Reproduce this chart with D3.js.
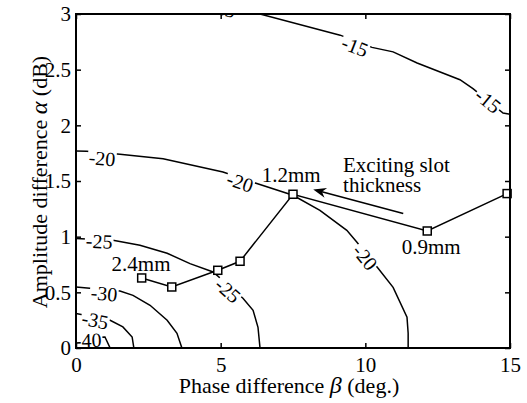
<!DOCTYPE html>
<html>
<head>
<meta charset="utf-8">
<script src="https://cdn.jsdelivr.net/npm/d3@7"></script>
<style>
  body { margin: 0; background: #fff; }
  svg text { font-family: "Liberation Serif", "Times New Roman", serif; fill: #000; }
</style>
</head>
<body>
<svg id="chart"></svg>
<script>
// axis ticks
const xTicks = [0, 5, 10, 15];
const yTicks = [0, 0.5, 1, 1.5, 2, 2.5, 3];

// contour lines, [beta, alpha]
const contourM15 = [[4.3, 3.1], [6.36, 3.0], [9.13, 2.81], [10.23, 2.70], [10.96, 2.66], [11.79, 2.56], [13.27, 2.41], [13.72, 2.33], [14.76, 2.11], [15, 2.10]];
const contourM20 = [[0, 1.77], [0.37, 1.767], [1.52, 1.74], [3.01, 1.70], [5.08, 1.58], [6.25, 1.477], [7.5, 1.372], [8.43, 1.237], [9.36, 1.057], [9.71, 0.95], [10.44, 0.716], [10.96, 0.545], [11.44, 0.276], [11.48, 0.132], [11.48, 0]];
const contourM25 = [[0, 0.983], [1.28, 0.968], [2.21, 0.923], [3.15, 0.851], [3.94, 0.758], [4.74, 0.683], [5.77, 0.447], [6.12, 0.339], [6.29, 0.186], [6.36, 0]];
const contourM30 = [[0, 0.548], [1.52, 0.512], [1.97, 0.473], [2.56, 0.384], [3.15, 0.249], [3.49, 0.132], [3.66, 0]];
const contourM35 = [[0, 0.309], [1.18, 0.249], [1.62, 0.189], [1.94, 0.099], [2.0, 0]];
const contourM40 = [[0, 0.09], [1.0, 0.099], [1.18, 0]];
const contours = [contourM15, contourM20, contourM25, contourM30, contourM35, contourM40];

// contour labels: [beta, alpha, text, index of contour]
const contourLabels = [
  [5.05, 3.05, '-15', 0], [9.64, 2.71, '-15', 0], [14.24, 2.22, '-15', 0],
  [0.9, 1.704, '-20', 1], [5.67, 1.49, '-20', 1], [9.99, 0.815, '-20', 1],
  [0.8, 0.959, '-25', 2], [5.25, 0.518, '-25', 2],
  [0.97, 0.49, '-30', 3],
  [0.66, 0.249, '-35', 4],
  [0.42, 0.07, '-40', 5]
];

// exciting slot thickness sweep
const beta = [2.27, 3.31, 4.9, 5.67, 7.5, 12.14, 14.9];
const alpha = [0.629, 0.548, 0.698, 0.779, 1.381, 1.051, 1.387];
const pointNotes = [[1.23, 0.692, '2.4mm'], [6.42, 1.49, '1.2mm'], [11.26, 0.848, '0.9mm']];
const arrowFrom = [11.31, 1.208];
const arrowTo = [8.2, 1.424];
const noteLines = ['Exciting slot', 'thickness'];

const serif = '"Liberation Serif", "Times New Roman", serif';
const W = 527, H = 403;
const margin = { top: 14, right: 17, bottom: 55, left: 76 };
const width = W - margin.left - margin.right;
const height = H - margin.top - margin.bottom;

const svg = d3.select('#chart').attr('width', W).attr('height', H);
const g = svg.append('g').attr('transform', `translate(${margin.left},${margin.top})`);

const x = d3.scaleLinear().domain([0, 15]).range([0, width]);
const y = d3.scaleLinear().domain([0, 3]).range([height, 0]);

svg.append('defs').append('clipPath').attr('id', 'plot-clip')
  .append('rect').attr('width', width).attr('height', height);

const plot = g.append('g').attr('clip-path', 'url(#plot-clip)');

const line = d3.line().x(d => x(d[0])).y(d => y(d[1]));

plot.selectAll('path.contour')
  .data(contours)
  .enter()
  .append('path')
  .attr('class', 'contour')
  .attr('fill', 'none')
  .attr('stroke', '#000')
  .attr('stroke-width', 1.5)
  .attr('d', line);

// angle of the contour nearest to a label
function labelAngle(px, py, pts) {
  let best = Infinity, ang = 0;
  for (let i = 0; i < pts.length - 1; i++) {
    const ax = x(pts[i][0]), ay = y(pts[i][1]);
    const bx = x(pts[i + 1][0]), by = y(pts[i + 1][1]);
    const dx = bx - ax, dy = by - ay;
    const t = Math.max(0, Math.min(1, ((px - ax) * dx + (py - ay) * dy) / (dx * dx + dy * dy)));
    const d = Math.hypot(ax + t * dx - px, ay + t * dy - py);
    if (d < best) { best = d; ang = Math.atan2(dy, dx) * 180 / Math.PI; }
  }
  if (ang > 90) ang -= 180;
  if (ang < -90) ang += 180;
  return ang;
}

contourLabels.forEach(l => {
  const px = x(l[0]), py = y(l[1]);
  const lg = plot.append('g')
    .attr('transform', `translate(${px},${py}) rotate(${labelAngle(px, py, contours[l[3]])})`);
  const t = lg.append('text')
    .attr('text-anchor', 'middle')
    .attr('dy', '0.35em')
    .attr('font-family', serif)
    .attr('font-size', 20)
    .text(l[2]);
  const b = t.node().getBBox();
  lg.insert('rect', 'text')
    .attr('x', b.x - 1).attr('y', b.y + 3)
    .attr('width', b.width + 2).attr('height', b.height - 6)
    .attr('fill', '#fff');
});

// sweep line + square markers
const pts = beta.map((b, i) => [b, alpha[i]]);
g.append('path')
  .datum(pts)
  .attr('fill', 'none')
  .attr('stroke', '#000')
  .attr('stroke-width', 1.5)
  .attr('d', line);

g.selectAll('rect.mark')
  .data(pts)
  .enter()
  .append('rect')
  .attr('class', 'mark')
  .attr('x', d => x(d[0]) - 4)
  .attr('y', d => y(d[1]) - 4)
  .attr('width', 8)
  .attr('height', 8)
  .attr('fill', '#fff')
  .attr('stroke', '#000')
  .attr('stroke-width', 1.5);

g.selectAll('text.note')
  .data(pointNotes)
  .enter()
  .append('text')
  .attr('class', 'note')
  .attr('x', d => x(d[0]))
  .attr('y', d => y(d[1]))
  .attr('font-size', 21)
  .text(d => d[2]);

// arrow
const ax0 = x(arrowFrom[0]), ay0 = y(arrowFrom[1]);
const ax1 = x(arrowTo[0]), ay1 = y(arrowTo[1]);
const aAng = Math.atan2(ay1 - ay0, ax1 - ax0) * 180 / Math.PI;
g.append('line')
  .attr('x1', ax0).attr('y1', ay0)
  .attr('x2', ax1 - 6 * Math.cos(aAng * Math.PI / 180))
  .attr('y2', ay1 - 6 * Math.sin(aAng * Math.PI / 180))
  .attr('stroke', '#000')
  .attr('stroke-width', 1.5);
g.append('path')
  .attr('transform', `translate(${ax1},${ay1}) rotate(${aAng})`)
  .attr('d', 'M0,0 L-13,-5 L-9,0 L-13,5 Z')
  .attr('fill', '#000');

const noteX = x(9.23), noteY = y(1.581);
g.append('text')
  .attr('font-size', 21)
  .selectAll('tspan')
  .data(noteLines)
  .enter()
  .append('tspan')
  .attr('x', noteX)
  .attr('y', (d, i) => noteY + i * 20)
  .text(d => d);

// axes, ticks point inward
const axB = g.append('g')
  .attr('transform', `translate(0,${height})`)
  .call(d3.axisBottom(x).tickValues(xTicks).tickSize(-5).tickPadding(9).tickFormat(d3.format('')));
const axL = g.append('g')
  .call(d3.axisLeft(y).tickValues(yTicks).tickSize(-5).tickPadding(5).tickFormat(d3.format('')));
const axT = g.append('g')
  .call(d3.axisTop(x).tickValues(xTicks).tickSize(-5).tickFormat(''));
const axR = g.append('g')
  .attr('transform', `translate(${width},0)`)
  .call(d3.axisRight(y).tickValues(yTicks).tickSize(-5).tickFormat(''));

[axB, axL, axT, axR].forEach(a => {
  a.select('.domain').remove();
  a.selectAll('line').attr('stroke', '#000').attr('stroke-width', 1.5);
  a.selectAll('text')
    .attr('font-size', 21)
    .attr('font-family', serif)
    .attr('fill', '#000');
});

g.append('rect')
  .attr('width', width)
  .attr('height', height)
  .attr('fill', 'none')
  .attr('stroke', '#000')
  .attr('stroke-width', 2);

// axis titles
const xt = svg.append('text')
  .attr('x', 289)
  .attr('y', 393)
  .attr('text-anchor', 'middle')
  .attr('font-size', 22);
xt.append('tspan').text('Phase difference ');
xt.append('tspan').attr('font-style', 'italic').attr('font-size', 24).text('β');
xt.append('tspan').text(' (deg.)');

const yt = svg.append('text')
  .attr('transform', `translate(47,182) rotate(-90)`)
  .attr('text-anchor', 'middle')
  .attr('font-size', 22);
yt.append('tspan').text('Amplitude difference ');
yt.append('tspan').attr('font-style', 'italic').attr('font-size', 24).text('α');
yt.append('tspan').text(' (dB)');
</script>
</body>
</html>
